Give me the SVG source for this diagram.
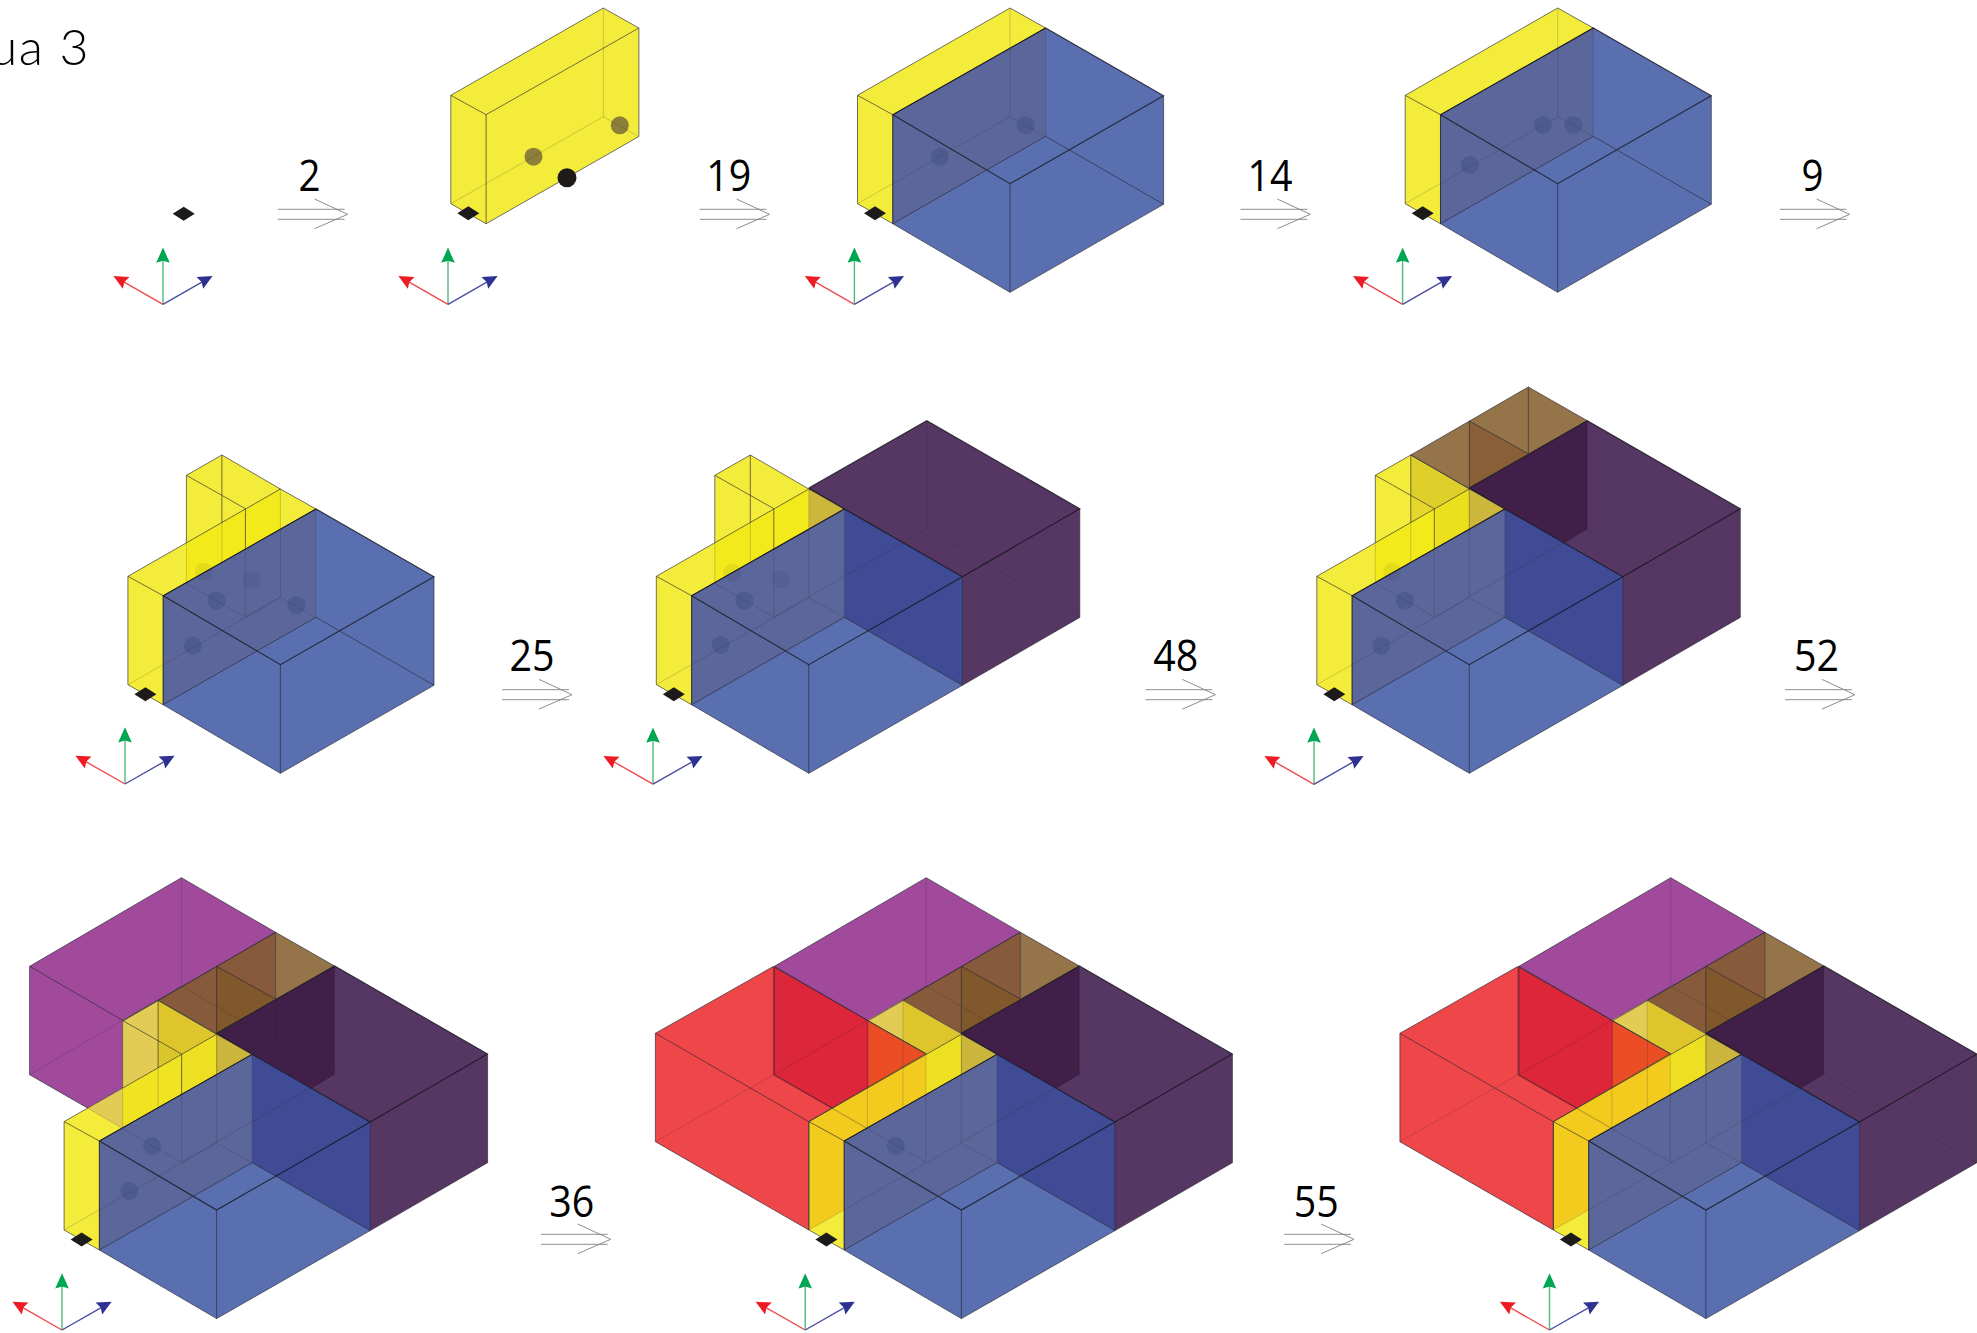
<svg xmlns="http://www.w3.org/2000/svg" width="1977" height="1333" viewBox="0 0 1977 1333">
<style>
.e{fill:none;stroke:#2a2a34;stroke-width:1;stroke-opacity:.65}
.s{fill:none;stroke:#14141c;stroke-width:1.1;stroke-opacity:.8}
.f{fill:none;stroke:#2a2a34;stroke-width:1;stroke-opacity:.2}
.n{font-family:"Open Sans","Noto Sans",sans-serif;font-size:43px;fill:#000;text-anchor:middle}
.t{font-family:Lato,"Open Sans",sans-serif;font-weight:300;font-size:50px;letter-spacing:1.5px;fill:#000;text-anchor:end}
.dw{fill:#2f3f78;opacity:.3}
.dy{fill:#000;opacity:.06}
.df{fill:#2f3f78;opacity:.14}
.ar{fill:none;stroke:#808080;stroke-width:.9}
</style>
<defs>
<polygon id="dia" points="-146,29.5 -135,22.5 -124,29.5 -135,36.5" fill="#1d1a1a"/>
<g id="axes">
<path d="M0 0V-46" stroke="#4fb97f" stroke-width="1.4" fill="none"/>
<path d="M0 0L-41 -23.4" stroke="#ed4a50" stroke-width="1.4" fill="none"/>
<path d="M0 0L41 -23.4" stroke="#4a4fa0" stroke-width="1.4" fill="none"/>
<polygon points="0,-56.7 6.8,-41.5 0,-43.5 -6.8,-41.5" fill="#00a651"/>
<polygon points="-49.6,-28.3 -33.5,-27.4 -38.6,-22.4 -40.2,-15.6" fill="#ed1c24"/>
<polygon points="49.6,-28.3 33.5,-27.4 38.6,-22.4 40.2,-15.6" fill="#2e3192"/>
</g>
<g id="arrow" class="ar">
<path d="M-69.8 -5H-3M-69.8 5H-3M-33 -15.3L0 0L-33 14.4"/>
</g>
<polygon id="fY" fill="#f4ec3b" points="-152.5,-88.4 0,-175.7 35.6,-155.7 35.6,-47.2 -117.2,40 -152.5,20"/>
<g id="lY">
<path class="e" d="M-152.5 -88.4L0 -175.7L35.6 -155.7L-117.2 -69ZM-152.5 -88.4V20L-117.2 40V-69"/>
<path class="f" d="M0 -175.7V-67M-152.5 20L0 -67L35.6 -47.2"/>
</g>
<g id="fB">
<polygon fill="#5a6fb0" points="-117.2,-69 35.6,-155.7 153.6,-88 153.6,20.6 0,108.6 -117.2,40"/>
<polygon fill="#5b679a" points="-117.2,-69 35.6,-155.7 35.6,-47.4 -117.2,40"/>
</g>
<g id="lB">
<path class="s" d="M-117.2 -69L35.6 -155.7L153.6 -88L0 0Z"/>
<path class="e" d="M0 0V108.6L153.6 20.6V-88M-117.2 -69V40L0 108.6"/>
<path class="f" d="M35.6 -155.7V-47.4"/>
<path class="e" stroke-opacity=".45" d="M-117.2 40L35.6 -47.4L153.6 20.6"/>
</g>
<g id="fE">
<polygon fill="#f4ec3b" points="-94,-189.4 -58.5,-209.7 0,-175.7 0,-140 -94,-85"/>
<polygon fill="#f2ea1b" points="-94,-122 0,-175.7 0,-136.2 -94,-82.3"/>
</g>
<g id="lE">
<path class="e" d="M-94 -122V-189.4L-58.5 -209.7L0 -175.7M-94 -189.4L-35 -156M-58.5 -209.7V-142M-35 -156V-116"/>
<path class="f" d="M-94 -122V-81.4L-35 -47.7L0 -67.7M-58.5 -142V-101.7M-35 -116V-47.7"/>
</g>
<polygon id="fP" fill="#563763" points="0,-176.7 118,-244 271,-156 271,-47.3 153.6,20.6 0,-68"/>
<polygon id="fBP" fill="#3f4b94" points="35.6,-155.7 153.6,-88 153.6,20.6 35.6,-47.4"/>
<g id="lP">
<path class="s" d="M0 -176.7L118 -244L271 -156L153.6 -88M0 -176.7L35.6 -155.7"/>
<path class="e" d="M271 -156V-47.3L153.6 20.6"/>
<path class="f" d="M118 -244V-135.7L271 -47.3M118 -135.7L0 -68"/>
</g>
<g id="fK">
<polygon fill="#96744a" points="-58.5,-209.7 59,-277.7 118,-244 0,-176.2"/>
<polygon fill="#885f37" points="0,-243.7 59,-211 0,-176.2"/>
<polygon fill="#411f48" points="0,-176.7 118,-244 118,-135.7 95.7,-122 35.6,-155.7"/>
</g>
<g id="lK">
<path class="e" d="M-58.5 -209.7L59 -277.7L118 -244L0 -176.2M0 -243.7L59 -211M0 -243.7V-176.2M59 -277.7V-211M-58.5 -209.7L0 -176.2"/>
<path class="f" d="M59 -211V-170L118 -136M0 -176V-136"/>
</g>
<g id="fM">
<polygon fill="#a14a9c" points="-35.2,-332.3 59,-277.7 -58.5,-209.7 -94,-189.4 -94,-122 -128.7,-101.8 -187,-135.3 -187,-243.7"/>
<polygon fill="#875a3b" points="-58.5,-209.7 59,-277.7 59,-211 0,-176.2"/>
<polygon fill="#81572c" points="0,-243.7 59,-211 0,-176.2"/>
</g>
<g id="lM">
<path class="e" d="M-187 -243.7L-35.2 -332.3L59 -277.7L-93.2 -189.3L-187 -243.7M-187 -243.7V-135.3L-128.7 -101.8"/>
<path class="f" d="M-35.2 -332.3V-224M-187 -135.3L-35.2 -224L59 -169.3M-128.7 -101.8L-93.2 -81"/>
</g>
<g id="fYP">
<polygon fill="#ebe01c" points="-35,-156 0,-175.7 0,-136.2 -35,-116.3"/>
<polygon fill="#ccb73c" points="0,-175.7 35.6,-155.7 0,-136.2"/>
<polygon fill="#dfcf2b" points="-58.5,-209.7 0,-175.7 -35,-156 -58.5,-169"/>
<polygon fill="#e5d82a" points="-58.5,-169 -35,-156 -58.5,-142"/>
</g>
<g id="fYM">
<polygon fill="#e3cc55" points="-94,-189.4 -58.5,-209.7 -58.5,-142 -94,-122"/>
<polygon fill="#e3cc55" points="-128.7,-101.8 -94,-122 -94,-81.4"/>
<polygon fill="#efe322" points="-94,-122 -35,-156 -35,-116.3 -94,-82.3"/>
<polygon fill="#ddc52b" points="-58.5,-209.7 0,-175.7 -35,-156 -58.5,-169"/>
<polygon fill="#d9c62a" points="-58.5,-169 -35,-156 -58.5,-142"/>
</g>
<g id="fR">
<polygon fill="#ef4649" points="-306,-176.7 -188.2,-243.5 -35.6,-156.3 -152.6,-88.3 -152.6,20 -306,-68.3"/>
<polygon fill="#dd2639" points="-188.2,-243.5 -93.3,-189 -93.3,-123 -130.4,-101.7 -188.2,-135"/>
<polygon fill="#eb4e24" points="-93.3,-189 -35.6,-156.3 -93.3,-123"/>
<polygon fill="#f2cb1e" points="-152.6,-88.3 -35.6,-156.3 -35.6,-116.3 -117.2,-69 -117.2,-0.3 -152.6,20"/>
<polygon fill="#ede022" points="-35.6,-156.3 0,-175.7 0,-136.2 -35.6,-116.3"/>
<polygon fill="#cbb53c" points="0,-175.7 35.6,-155.7 0,-136.2"/>
<polygon fill="#e3cc55" points="-93.3,-189 -58.5,-209.7 -58.5,-169"/>
<polygon fill="#ddc52b" points="-58.5,-209.7 0,-175.7 -35.3,-156 -58.5,-169"/>
</g>
<g id="lR">
<path class="e" d="M-306 -176.7L-188.2 -243.5L-35.6 -156.3L-152.6 -88.3L-306 -176.7M-306 -176.7V-68.3L-152.6 20V-88.3"/>
<path class="f" d="M-188.2 -243.5V-135M-306 -68.3L-188.2 -135L-35.6 -47.9M-93.3 -189V-123M-35.6 -156.3V-47.9"/>
</g>
<g id="s3">
<use href="#fY"/><use href="#fB"/><use href="#lY"/><use href="#lB"/>
</g>
<g id="s5">
<use href="#fY"/><use href="#fE"/><use href="#fB"/>
<use href="#lY"/><use href="#lE"/><use href="#lB"/>
</g>
<g id="s9">
<use href="#fP"/><use href="#fM"/><use href="#fY"/><use href="#fE"/>
<polygon fill="#96744a" points="59,-277.7 118,-244 0,-176.2 59,-211"/>
<polygon fill="#411f48" points="0,-176.7 118,-244 118,-135.7 95.7,-122 35.6,-155.7"/>
<use href="#fR"/><use href="#fB"/><use href="#fBP"/>
<use href="#lP"/><use href="#lM"/><use href="#lK"/><use href="#lY"/><use href="#lR"/><use href="#lB"/>
<path class="f" d="M-58.5 -209.7V-101.7M-94 -189.4L-35 -156M-94 -189V-81.4"/>
<path class="e" d="M-93.3 -189.2L-35 -156"/>
</g>
</defs>

<text class="t" x="90" y="65">ua 3</text>

<g id="connectors">
<use href="#arrow" x="347.6" y="214.3"/>
<use href="#arrow" x="769.5" y="214.3"/>
<use href="#arrow" x="1310.3" y="214.3"/>
<use href="#arrow" x="1849.6" y="214.3"/>
<use href="#arrow" x="572" y="694.7"/>
<use href="#arrow" x="1215.4" y="694.7"/>
<use href="#arrow" x="1854.9" y="694.7"/>
<use href="#arrow" x="610.7" y="1239.3"/>
<use href="#arrow" x="1354" y="1239.3"/>
</g>
<g id="labels">
<text class="n" x="309.5" y="191" textLength="22" lengthAdjust="spacingAndGlyphs">2</text>
<text class="n" x="728.8" y="191" textLength="45" lengthAdjust="spacingAndGlyphs">19</text>
<text class="n" x="1269.9" y="191" textLength="45" lengthAdjust="spacingAndGlyphs">14</text>
<text class="n" x="1812.4" y="191" textLength="22" lengthAdjust="spacingAndGlyphs">9</text>
<text class="n" x="532" y="671" textLength="45" lengthAdjust="spacingAndGlyphs">25</text>
<text class="n" x="1175.7" y="671" textLength="45" lengthAdjust="spacingAndGlyphs">48</text>
<text class="n" x="1816.5" y="671" textLength="45" lengthAdjust="spacingAndGlyphs">52</text>
<text class="n" x="571.7" y="1216.5" textLength="45" lengthAdjust="spacingAndGlyphs">36</text>
<text class="n" x="1316.3" y="1216.5" textLength="45" lengthAdjust="spacingAndGlyphs">55</text>
</g>

<g id="panel1">
<use href="#dia" x="318.7" y="184.2"/>
<use href="#axes" x="163" y="304.3"/>
</g>

<g id="panel2">
<g transform="translate(603.3 183.7)">
<use href="#fY"/>
<circle cx="-69.8" cy="-27" r="9" fill="#8b7f3a"/>
<circle cx="16.5" cy="-58.4" r="9" fill="#8b7f3a"/>
<use href="#lY"/>
<path class="e" stroke-opacity=".5" d="M35.6 -155.7V-47.2L-117.2 40"/>
<circle cx="-36.3" cy="-6" r="9.5" fill="#1d1a1a"/>
<use href="#dia"/>
</g>
<use href="#axes" x="448" y="304.3"/>
</g>

<g id="panel3">
<g transform="translate(1010 183.7)">
<use href="#s3"/>
<circle class="dw" cx="-70.2" cy="-27" r="9"/>
<circle class="dw" cx="15.6" cy="-58.4" r="9"/>
<use href="#dia"/>
</g>
<use href="#axes" x="854.4" y="304.3"/>
</g>

<g id="panel4">
<g transform="translate(1557.7 183.7)">
<use href="#s3"/>
<circle class="dw" cx="-88" cy="-18.7" r="9"/>
<circle class="dw" cx="-14.7" cy="-58.7" r="9"/>
<circle class="dw" cx="15.6" cy="-58.7" r="9"/>
<use href="#dia"/>
</g>
<use href="#axes" x="1402.6" y="304.3"/>
</g>

<g id="panel5">
<g transform="translate(280.4 664.7)">
<use href="#s5"/>
<circle class="dw" cx="-87.5" cy="-19" r="9"/>
<circle class="dw" cx="16" cy="-59.7" r="9"/>
<circle class="dw" cx="-64" cy="-64" r="9"/>
<circle class="dy" cx="-76.8" cy="-93" r="9"/>
<circle class="df" cx="-28.6" cy="-84.7" r="9"/>
<use href="#dia"/>
</g>
<use href="#axes" x="125" y="784"/>
</g>

<g id="panel6">
<g transform="translate(808.8 664.7)">
<use href="#fP"/>
<use href="#fY"/><use href="#fE"/>
<polygon fill="#ccb73c" points="0,-175.7 35.6,-155.7 0,-136.2"/>
<use href="#fB"/><use href="#fBP"/>
<use href="#lP"/><use href="#lY"/><use href="#lE"/><use href="#lB"/>
<circle class="dw" cx="-88" cy="-19.7" r="9"/>
<circle class="dw" cx="-64.5" cy="-64" r="9"/>
<circle class="dy" cx="-76.5" cy="-92.4" r="9"/>
<circle class="df" cx="-28" cy="-85.4" r="9"/>
<use href="#dia"/>
</g>
<use href="#axes" x="653" y="784.2"/>
</g>

<g id="panel7">
<g transform="translate(1469.3 664.7)">
<use href="#fP"/>
<use href="#fK"/>
<use href="#fY"/><use href="#fE"/><use href="#fYP"/>
<use href="#fB"/><use href="#fBP"/>
<use href="#lP"/><use href="#lK"/><use href="#lY"/><use href="#lE"/><use href="#lB"/>
<circle class="dw" cx="-88" cy="-19" r="9"/>
<circle class="dw" cx="-64.5" cy="-64" r="9"/>
<circle class="dy" cx="-77" cy="-93" r="9"/>
<use href="#dia"/>
</g>
<use href="#axes" x="1314" y="784.3"/>
</g>

<g id="panel8">
<g transform="translate(216.6 1210)">
<use href="#fP"/>
<polygon fill="#96744a" points="59,-277.7 118,-244 0,-176.2 59,-211"/>
<polygon fill="#411f48" points="0,-176.7 118,-244 118,-135.7 95.7,-122 35.6,-155.7"/>
<use href="#fM"/>
<use href="#fY"/><use href="#fE"/>
<polygon fill="#ede022" points="-35,-156 0,-175.7 0,-136.2 -35,-116.3"/>
<polygon fill="#cbb53c" points="0,-175.7 35.6,-155.7 0,-136.2"/>
<use href="#fYM"/>
<use href="#fB"/><use href="#fBP"/>
<use href="#lP"/><use href="#lM"/><use href="#lK"/><use href="#lY"/><use href="#lE"/><use href="#lB"/>
<circle class="dw" cx="-87.2" cy="-19" r="9"/>
<circle class="dw" cx="-64.5" cy="-64" r="9"/>
<use href="#dia"/>
</g>
<use href="#axes" x="62" y="1330"/>
</g>

<g id="panel9">
<g transform="translate(961.4 1210)">
<use href="#s9"/>
<circle class="dw" cx="-65.6" cy="-64" r="9"/>
<use href="#dia"/>
</g>
<use href="#axes" x="805.2" y="1330"/>
</g>

<g id="panel10">
<g transform="translate(1705.9 1210)">
<use href="#s9"/>
<use href="#dia"/>
</g>
<use href="#axes" x="1549.5" y="1330"/>
</g>
</svg>
